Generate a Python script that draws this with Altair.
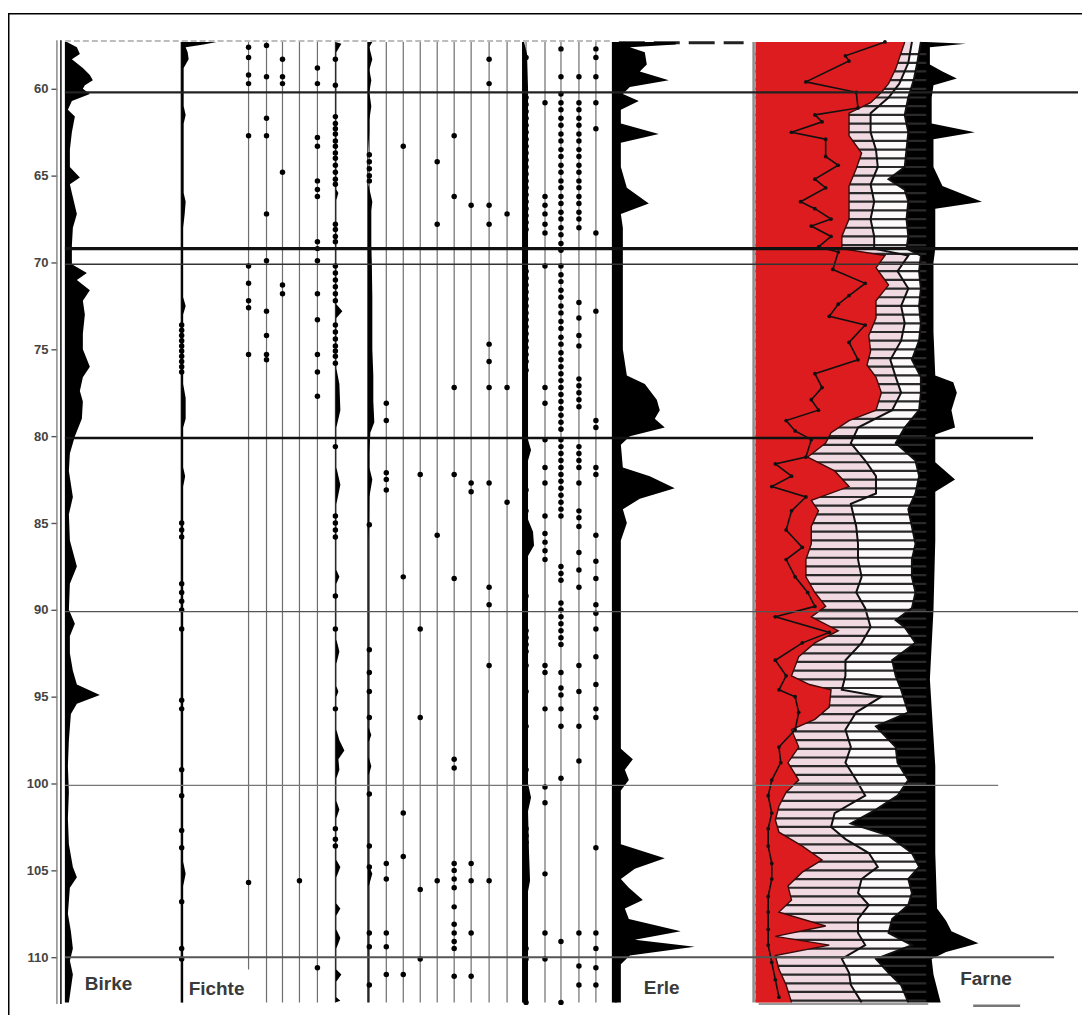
import altair as alt
import pandas as pd

# ---------------- values ----------------
DEPTH_TICKS = [60, 65, 70, 75, 80, 85, 90, 95, 100, 105, 110]
ZONE_DEPTHS = [60.2, 69.2, 70.1, 80.1, 90.1, 100.1, 110.0]
LABELS = ["Birke", "Fichte", "Erle", "Farne"]

# (depth, value %) silhouettes
BIRKE = [(57.3, 2), (57.6, 12), (58.0, 15), (58.3, 7), (58.8, 18), (59.2, 25), (59.5, 28), (59.8, 20),
         (60.0, 18), (60.3, 25), (60.7, 7), (61.2, 3), (61.6, 10), (62.5, 7), (63.5, 5), (64.5, 5),
         (65.1, 15), (65.5, 5), (66.0, 7), (67.2, 12), (68.0, 8), (69.0, 7), (70.1, 7), (70.6, 22),
         (71.0, 12), (71.6, 25), (72.2, 18), (73.0, 20), (74.1, 18), (75.0, 18), (76.0, 25), (76.6, 18),
         (77.4, 15), (78.0, 18), (79.0, 17), (80.0, 10), (81.0, 5), (82.0, 4), (83.5, 8), (84.5, 4),
         (86.0, 5), (87.5, 12), (88.5, 5), (90.0, 4), (90.8, 10), (91.5, 5), (92.5, 5), (93.5, 8),
         (94.3, 12), (94.9, 35), (95.4, 12), (96.0, 6), (97.5, 4), (99.0, 3), (100.5, 4), (102.0, 3),
         (103.5, 4), (104.8, 8), (105.4, 12), (106.0, 5), (107.5, 3), (108.5, 6), (109.5, 8),
         (110.2, 5), (111.0, 8), (111.8, 6), (112.6, 4)]

FICHTE = [(57.3, 35), (57.45, 22), (57.6, 4), (57.9, 6), (58.3, 7), (58.8, 2), (61.0, 2), (61.5, 4),
          (62.0, 2), (66.0, 2), (66.5, 4), (67.2, 3), (68.0, 1.5), (72.0, 1.5), (72.5, 4), (73.0, 1.5),
          (77.0, 1.5), (77.8, 4), (79.0, 4), (79.5, 1.5), (81.8, 1.5), (82.3, 3.5), (82.9, 1.5),
          (104.5, 1.5), (105.2, 4), (105.9, 1.5), (112.6, 1.5)]
FICHTE_DOTS = [73.6, 73.9, 74.2, 74.5, 74.8, 75.1, 75.4, 75.7, 76.0, 76.3, 85.0, 85.4, 85.8, 88.5,
               89.0, 89.5, 90.0, 91.1, 95.2, 95.7, 99.2, 100.7, 102.7, 103.7, 106.8, 109.5, 110.1]

ERLE = [(57.3, 61), (57.45, 61), (57.6, 15), (57.9, 30), (58.6, 32), (59.0, 25), (59.5, 54), (59.9, 15),
        (60.3, 8), (60.7, 24), (61.2, 6), (62.0, 6), (62.6, 44), (63.1, 6), (64.5, 6), (65.7, 12),
        (66.6, 34), (67.2, 6), (68.0, 8), (75.0, 8), (76.5, 12), (77.0, 30), (77.9, 42), (78.5, 45),
        (79.0, 40), (79.5, 50), (80.0, 15), (80.5, 6), (81.8, 8), (82.3, 35), (83.0, 60), (83.6, 25),
        (84.2, 8), (85.0, 12), (86.0, 6), (90.0, 6), (98.0, 6), (98.6, 18), (99.2, 10), (99.8, 14),
        (100.4, 6), (103.5, 6), (104.3, 50), (104.9, 20), (105.5, 6), (106.0, 14), (106.7, 28),
        (107.2, 10), (107.8, 14), (108.5, 66), (109.0, 20), (109.4, 80), (109.9, 15), (110.4, 6),
        (112.6, 6)]

C6_CURVE = [(57.3, 0), (57.4, 6), (57.9, 1), (65.8, 1), (66.0, 3), (66.4, 1), (72.4, 1), (72.8, 7),
            (73.2, 1), (76.1, 1), (77.0, 4), (78.5, 5), (79.5, 1), (81.8, 1), (82.8, 5), (83.9, 1),
            (87.7, 1), (88.1, 4), (88.5, 1), (91.7, 1), (92.4, 4), (93.1, 1), (94.4, 1), (94.7, 3),
            (95.0, 1), (96.9, 1), (97.5, 4), (98.1, 9), (98.6, 3), (99.2, 4), (99.7, 1), (101.0, 1),
            (101.5, 4), (102.0, 1), (104.4, 1), (104.8, 5), (105.4, 1), (106.9, 1), (107.2, 5),
            (107.6, 1), (108.4, 1), (108.9, 5), (109.5, 1), (110.7, 1), (111.0, 6), (111.4, 1),
            (112.3, 1), (112.5, 5), (112.6, 0)]
C7_CURVE = [(57.3, 5), (57.6, 2), (58.3, 5), (58.9, 2), (59.5, 4), (60.2, 2), (61.0, 4), (61.8, 2),
            (62.5, 2), (63.5, 1), (65.5, 1), (66.0, 3), (66.5, 5), (67.0, 4), (69.0, 4), (70.0, 4.5),
            (72.0, 5), (75.0, 5), (76.5, 6), (78.0, 6), (79.2, 7), (79.8, 3), (81.0, 2), (81.8, 2),
            (82.5, 5), (83.5, 2), (86.0, 1.5), (92.0, 1.5), (96.8, 1.5), (97.2, 4), (97.6, 1.5),
            (98.5, 1.5), (99.0, 4), (99.5, 1.5), (104.7, 1.5), (105.2, 5), (105.9, 1.5), (112.6, 1.5)]
C16_CURVE = [(57.3, 2), (58.0, 5), (60.0, 6), (70.0, 6), (76.5, 6), (80.2, 6), (80.8, 9), (81.4, 6),
             (84.8, 6), (85.5, 11), (86.3, 12), (86.9, 6), (93.0, 6), (100.0, 6), (100.8, 9),
             (101.6, 6), (104.0, 7), (105.6, 8), (106.2, 6), (112.6, 6)]

# dot records (depths) of the thin taxa columns, left to right
DOTS = [
    [57.6, 58.2, 59.2, 59.7, 62.7, 70.2, 71.2, 72.2, 72.6, 75.3, 105.7],
    [57.5, 59.3, 61.7, 62.7, 67.2, 69.9, 72.8, 74.2, 75.3, 75.6],
    [58.3, 59.3, 59.7, 64.8, 71.3, 71.8],
    [105.6],
    [58.8, 59.7, 62.8, 63.3, 65.3, 65.8, 66.2, 68.8, 69.2, 69.9, 71.8, 73.3, 75.3, 76.3, 77.7, 110.6],
    [58.3, 59.8, 61.6, 62.0, 62.3, 62.6, 63.0, 63.3, 63.7, 64.0, 64.4, 64.8, 65.2, 65.5, 67.8, 68.1,
     68.5, 68.8, 70.2, 70.6, 71.0, 71.4, 71.8, 72.2, 73.6, 74.0, 74.4, 74.8, 75.1, 75.4, 75.8, 80.6,
     84.6, 85.0, 85.4, 85.8, 89.2, 91.1, 95.7, 102.6, 103.2, 103.6],
    [63.8, 64.2, 64.6, 65.0, 65.3, 85.1, 92.3, 93.6, 94.7, 96.2, 100.6, 103.6, 104.8, 108.6, 109.4,
     111.6],
    [78.1, 79.1, 82.1, 82.5, 83.1, 104.6, 105.5, 108.6, 109.4, 111.0],
    [63.3, 88.1, 101.7, 104.2, 111.0],
    [82.2, 91.1, 96.2, 106.1, 110.1],
    [64.2, 67.8, 85.7, 105.6],
    [62.7, 66.2, 77.2, 82.2, 88.2, 98.6, 99.1, 104.6, 105.0, 105.5, 106.0, 107.1, 108.1, 108.6,
     109.1, 109.5, 111.1],
    [66.7, 82.7, 83.2, 104.6, 105.6, 108.6, 111.1],
    [58.3, 59.7, 66.7, 67.8, 74.7, 75.7, 77.2, 82.7, 88.7, 89.7, 93.2, 105.6],
    [67.2, 77.2, 83.8],
    [58.2, 60.5, 60.9, 61.3, 61.7, 62.1, 62.5, 62.9, 63.3, 63.7, 64.1, 64.5, 64.9, 65.3, 65.7, 66.1,
     66.5, 66.9, 67.3, 67.7, 68.1, 70.5, 70.9, 71.3, 71.7, 72.1, 72.5, 72.9, 73.3, 73.7, 74.1, 74.5,
     74.9, 75.3, 75.7, 76.2, 83.1, 84.3, 89.2, 91.2, 91.6, 92.0, 92.4, 93.2, 94.7, 96.7, 99.2,
     102.6, 103.0, 103.4, 104.2, 109.5, 110.1, 112.6],
    [60.8, 66.2, 66.7, 67.2, 67.8, 68.3, 70.2, 77.2, 78.1, 80.2, 81.8, 82.7, 84.6, 85.6, 86.1, 86.6,
     87.1, 93.2, 93.6, 95.7, 100.2, 101.1, 105.2, 108.6, 110.1],
    [57.7, 59.3, 60.3, 60.8, 61.2, 61.7, 62.1, 62.6, 63.0, 63.5, 63.9, 64.4, 64.8, 65.3, 65.7, 66.2,
     66.6, 67.1, 67.5, 68.0, 68.4, 68.9, 69.3, 70.2, 70.7, 71.1, 71.6, 72.0, 72.5, 72.9, 73.4, 73.8,
     74.3, 74.7, 75.2, 75.6, 76.0, 76.4, 76.8, 77.2, 77.6, 78.0, 78.4, 78.8, 79.2, 79.6, 80.2, 80.6,
     81.0, 81.4, 81.8, 82.2, 82.6, 83.0, 83.4, 83.8, 84.2, 84.6, 87.5, 87.9, 88.3, 89.6, 90.0, 90.4,
     90.8, 91.2, 91.6, 92.0, 93.6, 94.5, 94.9, 95.7, 96.7, 99.7, 109.1, 112.6],
    [59.3, 60.8, 61.2, 61.7, 62.1, 62.6, 63.0, 63.5, 63.9, 64.4, 64.8, 65.3, 65.7, 66.2, 66.6, 67.1,
     67.5, 68.0, 72.3, 73.2, 74.2, 74.8, 76.7, 77.1, 77.5, 77.9, 78.3, 80.6, 81.0, 81.4, 81.8, 82.7,
     84.3, 84.7, 85.2, 86.7, 87.7, 88.7, 93.2, 94.7, 96.7, 98.7, 108.6, 110.5, 111.6],
    [57.7, 58.2, 59.3, 60.8, 62.3, 68.3, 72.8, 79.1, 79.5, 81.8, 82.2, 85.7, 87.2, 88.2, 89.7, 90.2,
     91.1, 92.7, 94.3, 95.7, 96.2, 103.7, 108.6, 109.5, 110.6, 111.6],
]

# cumulative summary panel, % of panel width
TREES = [(57.3, 83), (58.85, 78), (59.7, 74), (60.2, 70), (60.8, 64), (61.4, 52), (62.7, 52), (63.7, 59),
         (64.6, 56), (65.6, 52), (66.5, 52), (67.5, 52), (68.5, 48), (69.2, 48), (69.6, 72), (70.3, 67),
         (71.3, 74), (72.2, 67), (73.2, 67), (74.2, 63), (75.1, 64), (75.9, 62), (76.6, 67), (77.5, 70),
         (78.5, 67), (79.1, 52), (79.8, 42), (80.4, 39), (81.2, 29), (82.0, 44), (82.9, 52), (83.7, 31),
         (84.3, 35), (85.2, 31), (86.2, 31), (87.1, 28), (88.1, 28), (89.0, 33), (89.8, 39), (90.4, 31),
         (91.2, 46), (91.9, 33), (92.7, 24), (93.8, 20), (94.3, 30), (94.6, 42), (95.6, 41), (96.3, 33),
         (96.9, 20), (97.9, 24), (98.8, 18), (99.8, 24), (100.5, 17), (101.3, 13), (102.1, 11),
         (102.8, 13), (103.6, 26), (104.4, 37), (105.1, 26), (105.9, 18), (106.7, 20), (107.4, 13),
         (108.2, 39), (108.8, 11), (109.3, 41), (109.9, 11), (110.7, 13), (111.6, 17), (112.6, 20)]
SHRUBS = [(57.3, 87), (58.5, 85), (59.7, 80), (60.5, 74), (61.4, 64), (62.5, 64), (63.5, 67), (64.5, 68),
          (65.5, 64), (66.5, 66), (67.5, 64), (68.5, 66), (69.2, 66), (69.6, 85), (70.5, 79), (71.5, 85),
          (72.5, 81), (73.5, 83), (74.5, 81), (75.6, 75), (76.6, 78), (77.5, 81), (78.5, 76), (79.5, 57),
          (80.4, 53), (81.4, 61), (82.3, 67), (83.3, 67), (83.9, 53), (85.2, 56), (86.2, 57), (87.1, 57),
          (88.1, 59), (89.0, 56), (89.9, 61), (91.0, 64), (91.9, 59), (92.9, 50), (93.8, 50), (94.6, 48),
          (95.0, 70), (95.9, 56), (96.9, 50), (97.9, 53), (98.8, 50), (99.8, 56), (100.7, 61),
          (101.7, 44), (102.5, 42), (103.2, 50), (104.0, 63), (104.8, 68), (105.5, 59), (106.3, 57),
          (107.0, 63), (107.8, 57), (108.6, 57), (109.3, 61), (110.1, 48), (110.9, 52), (111.6, 53),
          (112.6, 59)]
HERBS = [(57.3, 92), (58.5, 90), (59.5, 88), (60.5, 85), (61.5, 83), (62.5, 85), (63.5, 84), (64.5, 83),
         (65.2, 74), (65.8, 83), (66.5, 85), (67.5, 84), (68.5, 85), (69.2, 84), (69.6, 92), (70.5, 91),
         (71.5, 92), (72.5, 91), (73.5, 92), (74.5, 91), (75.6, 87), (76.6, 92), (77.5, 92), (78.5, 91),
         (79.5, 83), (80.4, 78), (81.4, 89), (82.3, 91), (83.3, 89), (84.2, 85), (85.2, 87), (86.2, 89),
         (87.1, 87), (88.1, 87), (89.0, 89), (89.9, 87), (90.6, 78), (91.0, 83), (91.9, 89), (92.9, 76),
         (93.8, 78), (94.6, 81), (95.9, 85), (96.7, 67), (97.9, 78), (98.8, 79), (99.8, 85), (100.7, 79),
         (101.5, 67), (102.3, 53), (103.0, 74), (104.0, 87), (104.8, 91), (105.5, 85), (106.3, 87),
         (107.0, 85), (107.8, 76), (108.6, 74), (109.3, 87), (110.1, 67), (110.9, 74), (111.6, 81),
         (112.6, 85)]
FARNE = [(57.3, 95), (57.4, 117), (57.6, 97), (58.6, 97), (59.0, 104), (59.4, 112), (59.8, 99), (60.5, 98),
         (62.0, 98), (62.5, 122), (62.9, 99), (64.5, 99), (65.6, 104), (66.5, 126), (66.9, 100),
         (69.2, 100), (70.0, 99), (74.0, 99), (76.5, 100), (76.9, 110), (77.5, 112), (78.5, 109),
         (79.5, 111), (79.9, 100), (81.5, 100), (82.5, 111), (83.2, 100), (86.0, 100), (90.0, 99),
         (94.0, 97), (99.0, 100), (104.0, 100), (107.2, 101), (107.9, 106), (108.5, 109), (109.2, 124),
         (109.7, 106), (110.1, 98), (111.0, 99), (112.6, 103)]
INNER = [(57.3, 72), (58.1, 50), (58.4, 52), (59.6, 28), (60.2, 56), (61.1, 57), (61.5, 33), (61.9, 37),
         (62.5, 20), (62.9, 39), (63.9, 39), (64.4, 46), (65.2, 33), (65.7, 39), (66.5, 25), (66.9, 33),
         (67.5, 42), (67.9, 31), (68.5, 42), (69.1, 35), (69.4, 46), (70.4, 43), (71.2, 61), (71.9, 52),
         (72.4, 46), (73.1, 41), (73.6, 61), (74.6, 52), (75.6, 57), (76.4, 33), (77.2, 37), (77.9, 31),
         (78.5, 35), (79.1, 17), (79.7, 22), (80.2, 31), (81.2, 28), (81.6, 11), (82.3, 20), (82.9, 9),
         (83.5, 28), (84.3, 20), (85.4, 17), (86.4, 26), (87.1, 17), (88.1, 22), (89.0, 29), (89.8, 33),
         (90.4, 11), (91.3, 41), (91.9, 26), (92.9, 11), (93.8, 17), (94.6, 13), (95.0, 22), (95.9, 24),
         (96.9, 22), (97.9, 13), (98.8, 14), (99.8, 9), (100.7, 7), (101.7, 9), (102.6, 7), (103.6, 7),
         (104.6, 9), (105.5, 9), (106.5, 7), (107.4, 7), (108.4, 7), (109.3, 7), (110.3, 9), (111.3, 11),
         (112.3, 13)]
SAMPLE_DEPTHS = [58.0, 58.5, 59.0, 59.5, 60.0, 60.5, 61.0, 61.5, 62.0, 62.5, 63.0, 63.5, 64.0, 64.5,
                 65.0, 65.5, 66.0, 66.5, 67.0, 67.5, 68.0, 68.5, 69.0, 69.5, 70.0, 70.5, 71.0, 71.5,
                 72.0, 72.5, 73.0, 73.5, 74.0, 74.5, 75.0, 75.5, 76.0, 76.5, 77.0, 77.5, 78.0, 78.5,
                 79.0, 79.5, 80.0, 80.5, 81.0, 81.5, 82.0, 82.5, 83.0, 83.5, 84.0, 84.5, 85.0, 85.5,
                 86.0, 86.5, 87.0, 87.5, 88.0, 88.5, 89.0, 89.5, 90.0, 90.5, 91.0, 91.5, 92.0, 92.5,
                 93.0, 93.5, 94.0, 94.5, 95.0, 95.5, 96.0, 96.5, 97.0, 97.5, 98.0, 98.5, 99.0, 99.5,
                 100.0, 100.5, 101.0, 101.5, 102.0, 102.5, 103.0, 103.5, 104.0, 104.5, 105.0, 105.5,
                 106.0, 106.5, 107.0, 107.5, 108.0, 108.5, 109.0, 109.5, 110.0, 110.5, 111.0, 111.5,
                 112.0, 112.5]

# ---------------- layout (positions / styles) ----------------
W, H = 1076, 1008
XS = alt.Scale(domain=[8, 1084], nice=False, zero=False)
YS = alt.Scale(domain=[55.40, 113.33], reverse=True, nice=False, zero=False)
TOP, BOTTOM = 57.3, 112.6
FONT = "Liberation Sans Narrow, Liberation Sans, Arial, sans-serif"

BIRKE_BASE, FICHTE_BASE, ERLE_BASE = 65, 182, 618
THIN_X = [249, 267, 283, 300, 318, 336, 370, 387, 404, 421, 438, 455, 472, 490, 508, 527, 546, 562, 580, 597]
THIN_END = [110.7] + [BOTTOM] * 19
C6_BASE, C7_BASE, C16_BASE = 336, 368, 523
PANEL_LEFT, PANEL_K = 757, 1.8
HATCH_END = 95
ZONE_X1 = [1080, 1080, 1080, 1035, 1080, 1000, 1056]
ZONE_W = [2.2, 3.2, 1.6, 2.6, 1.2, 1.2, 2.0]
ZONE_C = ["#222222", "#111111", "#333333", "#111111", "#555555", "#777777", "#555555"]
LABEL_X = [85, 189, 645, 962]
LABEL_D = [111.55, 111.84, 111.78, 111.26]

AX = alt.Axis(values=DEPTH_TICKS, offset=-49, domain=False, grid=False, ticks=True, tickSize=6,
              tickColor="#555555", tickWidth=1.4, labelFont=FONT, labelFontSize=13,
              labelFontWeight="bold", labelColor="#444444", labelPadding=3, title=None)


def Y(f):
    return alt.Y(f"{f}:Q", scale=YS, axis=AX)


def X(f):
    return alt.X(f"{f}:Q", scale=XS, axis=None, stack=None)


def prof(pairs, base, k=1.0):
    return pd.DataFrame({"depth": [p[0] for p in pairs],
                         "x": [base + k * p[1] for p in pairs],
                         "x0": [base] * len(pairs)})


def area(df, color):
    return alt.Chart(df).mark_area(orient="horizontal", color=color, opacity=1).encode(
        y=Y("depth"), x=X("x"), x2=alt.X2("x0"))


def line(df, color, w):
    return alt.Chart(df).mark_line(color=color, strokeWidth=w).encode(
        y=Y("depth"), x=X("x"), order=alt.Order("depth:Q"))


def hrule(d, x0, x1, color, w, dash=None):
    df = pd.DataFrame({"depth": [d], "x0": [x0], "x1": [x1]})
    kw = dict(color=color, strokeWidth=w)
    if dash:
        kw["strokeDash"] = dash
    return alt.Chart(df).mark_rule(**kw).encode(y=Y("depth"), x=X("x0"), x2="x1")


def vrule(x, d0, d1, color, w):
    df = pd.DataFrame({"x": [x], "d0": [d0], "d1": [d1]})
    return alt.Chart(df).mark_rule(color=color, strokeWidth=w).encode(x=X("x"), y=Y("d0"), y2="d1")


layers = []

# thin column lines
cols = pd.DataFrame({"x": THIN_X, "d0": [TOP] * len(THIN_X), "d1": THIN_END})
layers.append(alt.Chart(cols).mark_rule(color="#6e6e6e", strokeWidth=1.2).encode(
    x=X("x"), y=Y("d0"), y2="d1"))

# faint top lines
layers.append(hrule(57.25, 65, 612, "#bdbdbd", 2, [6, 3]))
layers.append(hrule(57.35, 620, 745, "#222222", 3, [26, 9]))

# depth axis double line
layers.append(vrule(57, 57.2, 112.7, "#8a8a8a", 1.5))
layers.append(vrule(61, 57.2, 112.7, "#1a1a1a", 1.6))

# silhouettes
layers.append(vrule(FICHTE_BASE, TOP, BOTTOM, "#111111", 2))
layers.append(area(prof(BIRKE, BIRKE_BASE), "black"))
layers.append(area(prof(FICHTE, FICHTE_BASE), "black"))
layers.append(area(prof(C6_CURVE, C6_BASE), "black"))
layers.append(area(prof(C7_CURVE, C7_BASE), "black"))
layers.append(area(prof(C16_CURVE, C16_BASE), "black"))
layers.append(vrule(ERLE_BASE - 2.5, TOP, BOTTOM, "black", 5))
layers.append(area(prof(ERLE, ERLE_BASE - 2), "black"))

# dots
dot_rows = []
for x, ds in zip(THIN_X, DOTS):
    for d in ds:
        dot_rows.append({"x": x, "depth": d})
for d in FICHTE_DOTS:
    dot_rows.append({"x": FICHTE_BASE, "depth": d})
dots = pd.DataFrame(dot_rows)
layers.append(alt.Chart(dots).mark_circle(color="black", opacity=1, size=30).encode(
    x=X("x"), y=Y("depth")))

# summary panel
layers.append(area(prof(FARNE, PANEL_LEFT, PANEL_K), "black"))
layers.append(area(prof(HERBS, PANEL_LEFT, PANEL_K), "#fdfafb"))
layers.append(area(prof(SHRUBS, PANEL_LEFT, PANEL_K), "#f1d9e1"))
hatch = pd.DataFrame({"depth": SAMPLE_DEPTHS, "x0": [PANEL_LEFT] * len(SAMPLE_DEPTHS),
                      "x1": [PANEL_LEFT + PANEL_K * HATCH_END] * len(SAMPLE_DEPTHS)})
layers.append(alt.Chart(hatch).mark_rule(color="#2a2a2a", strokeWidth=2.2).encode(
    y=Y("depth"), x=X("x0"), x2="x1"))
layers.append(area(prof(TREES, PANEL_LEFT, PANEL_K), "#dc1c1e"))
layers.append(line(prof(TREES, PANEL_LEFT, PANEL_K), "#3a0a0a", 1.4))
layers.append(line(prof(SHRUBS, PANEL_LEFT, PANEL_K), "#111111", 2))
layers.append(line(prof(HERBS, PANEL_LEFT, PANEL_K), "#111111", 2))
inner = prof(INNER, PANEL_LEFT, PANEL_K)
layers.append(line(inner, "#111111", 1.6))
layers.append(alt.Chart(inner).mark_circle(color="#111111", size=14, opacity=1).encode(
    x=X("x"), y=Y("depth")))
layers.append(vrule(PANEL_LEFT - 2, TOP, BOTTOM, "#8c8c8c", 2.5))
layers.append(hrule(112.7, 760, 930, "#9a9a9a", 2))

# zone boundaries
zones = pd.DataFrame({"depth": ZONE_DEPTHS, "x0": [BIRKE_BASE] * len(ZONE_DEPTHS), "x1": ZONE_X1,
                      "w": ZONE_W, "c": ZONE_C})
layers.append(alt.Chart(zones).mark_rule().encode(
    y=Y("depth"), x=X("x0"), x2="x1",
    strokeWidth=alt.StrokeWidth("w:Q", scale=None, legend=None),
    color=alt.Color("c:N", scale=None, legend=None)))

# taxa labels
labels = pd.DataFrame({"label": LABELS, "x": LABEL_X, "depth": LABEL_D})
layers.append(alt.Chart(labels).mark_text(align="left", baseline="middle", font=FONT, fontSize=19,
                                          fontWeight="bold", color="#3a3a3a").encode(
    x=X("x"), y=Y("depth"), text="label:N"))
layers.append(hrule(112.8, 975, 1022, "#777777", 2.5))

# frame (left and top border)
frame_l = alt.Chart(pd.DataFrame({"a": [0]})).mark_rule(color="black", strokeWidth=1.5).encode(
    x=alt.value(0.75), y=alt.value(4.7), y2=alt.value(H))
frame_t = alt.Chart(pd.DataFrame({"a": [0]})).mark_rule(color="black", strokeWidth=1.5).encode(
    x=alt.value(0), x2=alt.value(W), y=alt.value(4.7))
layers += [frame_l, frame_t]

chart = alt.layer(*layers).properties(
    width=W, height=H, autosize=alt.AutoSizeParams(type="none"), padding=0,
    background="white"
).configure_view(stroke=None)

chart.save("out.html", embed_options={"renderer": "svg", "actions": False})
